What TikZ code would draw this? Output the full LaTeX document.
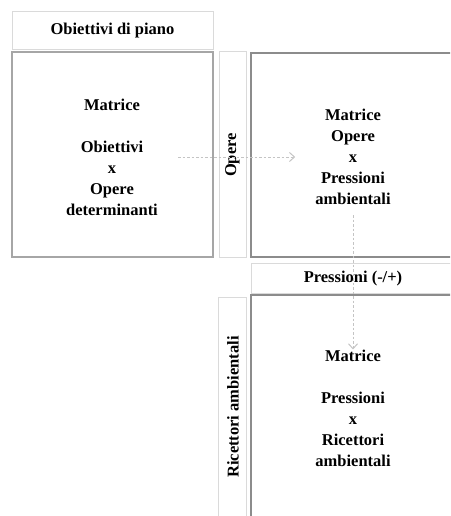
\documentclass[tikz,border=0pt]{standalone}
\usepackage{fontspec}
\setmainfont{Liberation Serif}
\usetikzlibrary{arrows.meta}
\definecolor{lightframe}{HTML}{DADADA}
\definecolor{midframe}{HTML}{A6A6A6}
\definecolor{darkframe}{HTML}{8C8C8C}
\definecolor{arrowgray}{HTML}{C4C4C4}
\tikzset{
  lbl/.style={font=\fontsize{16.5}{21}\selectfont\bfseries, align=center, inner sep=2pt},
  hdrbox/.style={draw=lightframe, line width=1pt, inner sep=0pt},
  matbox/.style={draw=midframe, line width=1.2pt, inner sep=0pt},
  matboxdark/.style={draw=darkframe, line width=1.8pt, inner sep=0pt},
  flow/.style={draw=arrowgray, line width=1pt, dash pattern=on 2.5pt off 2pt, -{Straight Barb[length=5pt,width=9pt]}},
}
\begin{document}
\begin{tikzpicture}[x=1pt,y=-1pt]
\useasboundingbox (0,0) rectangle (450,516);
\clip (0,0) rectangle (450,516);
% frames
\node[hdrbox, minimum width=201pt, minimum height=38pt] (hobj) at (112.5,31) {};
\node[matbox, minimum width=201pt, minimum height=205pt] (m1) at (112.5,154.5) {};
\node[hdrbox, minimum width=27pt, minimum height=205pt] (vop) at (232.5,154.5) {};
\node[matboxdark, minimum width=215pt, minimum height=204pt] (m2) at (358.5,155) {};
\node[hdrbox, minimum width=215pt, minimum height=30pt] (hpr) at (358.5,278) {};
\node[matboxdark, minimum width=215pt, minimum height=240pt] (m3) at (358.5,415) {};
\node[hdrbox, minimum width=28pt, minimum height=240pt] (vric) at (232,417) {};
% labels
\node[lbl] (lobj) at (hobj) {Obiettivi di piano};
\node[lbl, rotate=90] (lop) at (232.5,155) {Opere};
\node[lbl] (lpr) at (353,279) {Pressioni (-/+)};
\node[lbl, rotate=90] (lric) at (233,407) {Ricettori ambientali};
\node[lbl] (t1) at (112,157) {Matrice\\[21pt]Obiettivi\\x\\Opere\\determinanti};
\node[lbl] (t2) at (353,157) {Matrice\\Opere\\x\\Pressioni\\ambientali};
\node[lbl] (t3) at (353,408) {Matrice\\[21pt]Pressioni\\x\\Ricettori\\ambientali};
% connectors
\draw[flow, shorten <=18pt, shorten >=18pt] (t1.east) -- (t2.west |- t1.east);
\draw[flow, shorten <=8pt, shorten >=-2pt] (t2.south) -- (t3.north);
\end{tikzpicture}
\end{document}
